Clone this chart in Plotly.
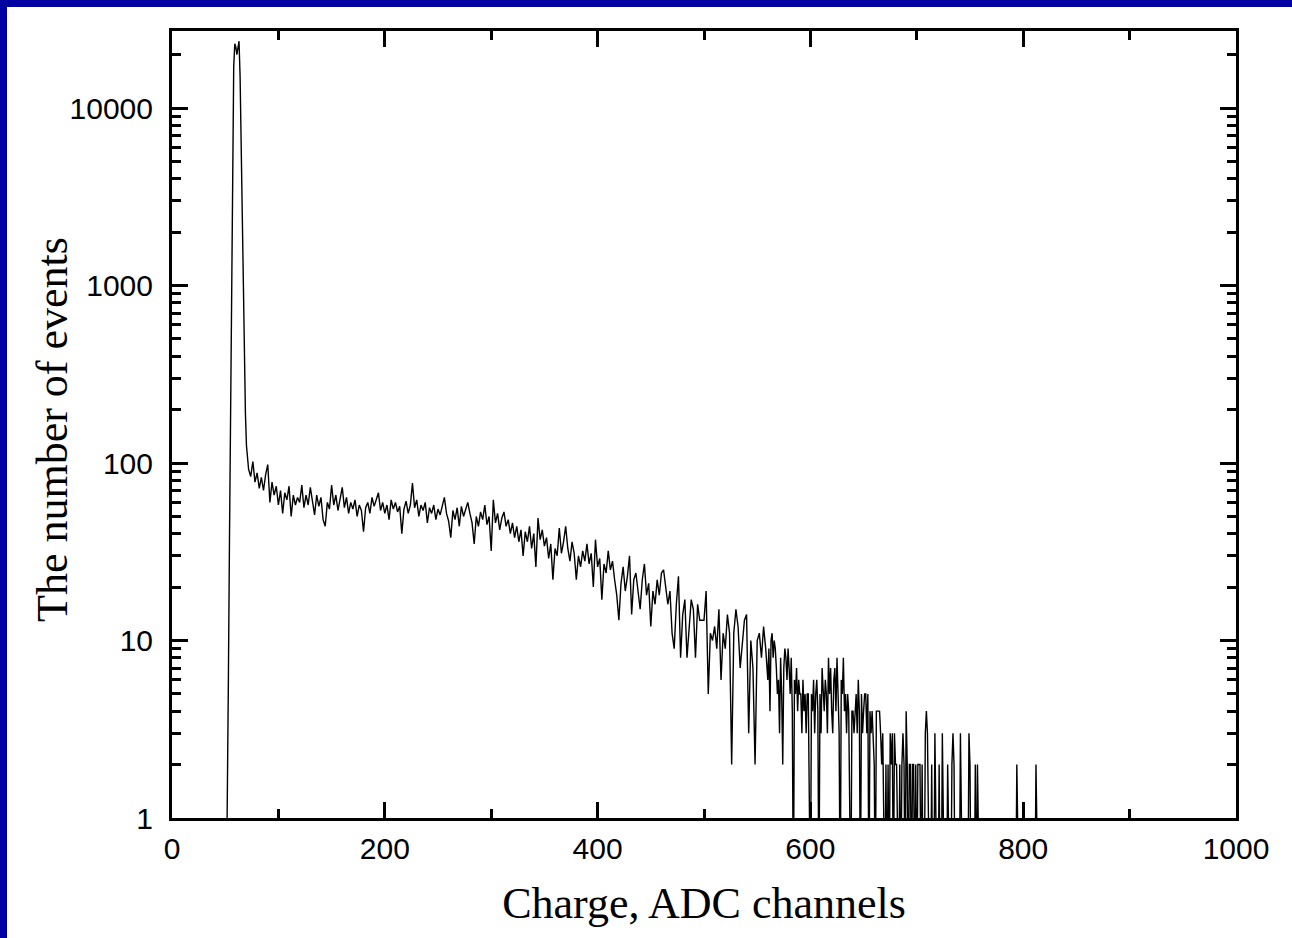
import plotly.graph_objects as go

# ---------------- data ----------------
# Peak region, one point per ADC channel (channels 51..71)
peak_channels = list(range(51, 72))
peak_counts = [0, 1, 6, 36, 200, 1200, 7000, 17000, 23000, 22000, 20000,
               22500, 23800, 15000, 6500, 2600, 860, 330, 190, 125, 104]

# Continuum, read every second channel (channels 72..558)
body_channels = list(range(72, 560, 2))
body_counts = [
    92, 84, 102, 78, 88, 72, 83, 70, 86, 98,
    60, 78, 66, 74, 58, 70, 52, 68, 62, 74,
    50, 66, 58, 64, 60, 75, 56, 66, 58, 73,
    62, 51, 66, 57, 64, 48, 44, 60, 55, 75,
    58, 66, 54, 62, 73, 56, 64, 52, 60, 55,
    62, 50, 58, 54, 41, 56, 60, 52, 64, 57,
    62, 68, 54, 60, 52, 58, 48, 62, 55, 60,
    53, 57, 40, 55, 61, 52, 58, 77, 56, 62,
    50, 58, 54, 60, 46, 56, 52, 58, 48, 55,
    51, 58, 64, 52, 47, 38, 54, 48, 56, 44,
    57, 50, 55, 60, 52, 46, 35, 50, 44, 53,
    48, 58, 45, 50, 32, 62, 46, 52, 42, 49,
    53, 44, 48, 40, 46, 38, 44, 36, 42, 30,
    41, 36, 44, 33, 40, 26, 49, 37, 42, 34,
    38, 29, 35, 22, 33, 30, 43, 31, 36, 44,
    33, 28, 36, 31, 22, 30, 26, 32, 28, 35,
    27, 31, 20, 37, 26, 29, 17, 27, 24, 32,
    25, 28, 22, 18, 13, 21, 26, 19, 23, 30,
    14, 22, 24, 19, 15, 22, 27, 18, 21, 12,
    19, 16, 22, 18, 24, 25, 20, 16, 19, 11,
    9, 16, 23, 8, 14, 17, 8, 12, 17, 15,
    8, 16, 13, 13, 13, 19, 5, 11, 10, 12,
    9, 15, 6, 11, 9, 14, 11, 2, 11, 15,
    12, 7, 10, 13, 14, 3, 10, 7, 2, 10, 11, 8, 12, 9,
]

# Tail, one point per channel (channels 560..817)
tail_channels = list(range(560, 818))
tail_counts = [
    6, 9, 4, 10, 11, 8, 10, 9, 7, 5,
    6, 3, 8, 5, 2, 7, 9, 8, 6, 9,
    7, 5, 8, 4, 0, 6, 5, 7, 4, 6,
    5, 5, 3, 6, 4, 5, 3, 5, 5, 0,
    0, 5, 4, 6, 3, 5, 6, 4, 0, 5,
    3, 7, 5, 4, 6, 5, 3, 8, 5, 7,
    4, 3, 6, 7, 4, 8, 5, 3, 0, 6,
    5, 8, 4, 5, 3, 5, 4, 0, 0, 4,
    4, 3, 4, 5, 3, 6, 4, 0, 5, 3,
    4, 5, 5, 3, 5, 0, 4, 3, 4, 3,
    2, 0, 4, 4, 4, 4, 3, 2, 3, 0,
    0, 2, 0, 2, 0, 3, 2, 3, 0, 3,
    2, 2, 0, 0, 2, 0, 2, 3, 2, 0,
    4, 2, 0, 2, 2, 0, 2, 2, 0, 2,
    0, 2, 2, 2, 0, 2, 0, 0, 3, 4,
    3, 0, 0, 0, 2, 0, 0, 3, 0, 0,
    0, 2, 0, 0, 3, 0, 0, 0, 0, 2,
    0, 0, 0, 2, 3, 2, 0, 0, 0, 0,
    0, 3, 0, 0, 0, 0, 0, 0, 0, 3,
    2, 0, 0, 0, 0, 2, 0, 2, 0, 0,
    0, 0, 0, 0, 0, 0, 0, 0, 0, 0,
    0, 0, 0, 0, 0, 0, 0, 0, 0, 0,
    0, 0, 0, 0, 0, 0, 0, 0, 0, 0,
    0, 0, 0, 0, 2, 0, 0, 0, 0, 0,
    0, 0, 0, 0, 0, 0, 0, 0, 0, 0,
    0, 0, 2, 0, 0, 0, 0, 0,
]

x_tick_vals = [0, 200, 400, 600, 800, 1000]
x_tick_text = ["0", "200", "400", "600", "800", "1000"]
x_minor_vals = [100, 300, 500, 700, 900]
y_tick_vals = [1, 10, 100, 1000, 10000]
y_tick_text = ["1", "10", "100", "1000", "10000"]

x_title = "Charge, ADC channels"
y_title = "The number of events"

# ---------------- figure ----------------
channels = peak_channels + body_channels + tail_channels
counts = peak_counts + body_counts + tail_counts
# empty bins cannot be shown on a log axis: draw them below the axis (clipped)
plot_counts = [c if c > 0 else 0.3 for c in counts]

W, H = 1292, 938
L, R, T, B = 172, 56, 31, 120
PW, PH = W - L - R, H - T - B

fig = go.Figure()
fig.add_trace(go.Scatter(
    x=channels, y=plot_counts, mode="lines",
    line=dict(color="black", width=1.4),
    hoverinfo="x+y",
))

y_minor_vals = [m * 10 ** d for d in range(0, 5) for m in range(2, 10) if m * 10 ** d < 27000]

tickfont = dict(family="Liberation Sans, Arial, sans-serif", size=30, color="black")
titlefont = dict(family="Liberation Serif, Times New Roman, serif", size=44, color="black")

fig.update_layout(
    width=W, height=H,
    margin=dict(l=L, r=R, t=T, b=B, autoexpand=False),
    paper_bgcolor="white", plot_bgcolor="white",
    showlegend=False,
    xaxis=dict(
        range=[0, 1000],
        tickmode="array", tickvals=x_tick_vals, ticktext=x_tick_text,
        ticks="inside", ticklen=16, tickwidth=3, tickcolor="black",
        minor=dict(tickmode="array", tickvals=x_minor_vals, ticks="inside",
                   ticklen=9, tickwidth=3, tickcolor="black", showgrid=False),
        showline=True, linewidth=3, linecolor="black", mirror="ticks",
        showgrid=False, zeroline=False,
        tickfont=tickfont, ticklabelstandoff=2,
        title=dict(text=x_title, font=titlefont, standoff=24),
    ),
    yaxis=dict(
        type="log", range=[0, 4.434],
        tickmode="array", tickvals=y_tick_vals, ticktext=y_tick_text,
        ticks="inside", ticklen=16, tickwidth=3, tickcolor="black",
        minor=dict(tickmode="array", tickvals=y_minor_vals, ticks="inside",
                   ticklen=9, tickwidth=3, tickcolor="black", showgrid=False),
        showline=True, linewidth=3, linecolor="black", mirror="ticks",
        showgrid=False, zeroline=False,
        tickfont=tickfont, ticklabelstandoff=10,
    ),
    annotations=[
        dict(text=y_title, font=titlefont, textangle=-90,
             xref="paper", yref="paper",
             x=(52 - L) / PW, y=(H - B - 430) / PH,
             xanchor="center", yanchor="middle", showarrow=False),
    ],
    shapes=[
        # blue frame: top and left bands
        dict(type="rect", xref="paper", yref="paper",
             x0=-L / PW, x1=(W - L) / PW, y0=(H - B - 7) / PH, y1=(H - B) / PH,
             fillcolor="#0000a0", line=dict(width=0), layer="above"),
        dict(type="rect", xref="paper", yref="paper",
             x0=-L / PW, x1=(7 - L) / PW, y0=-B / PH, y1=(H - B) / PH,
             fillcolor="#0000a0", line=dict(width=0), layer="above"),
    ],
)

fig.write_html("out.html", config={"displayModeBar": False},
               post_script="document.body.style.margin='0';")
